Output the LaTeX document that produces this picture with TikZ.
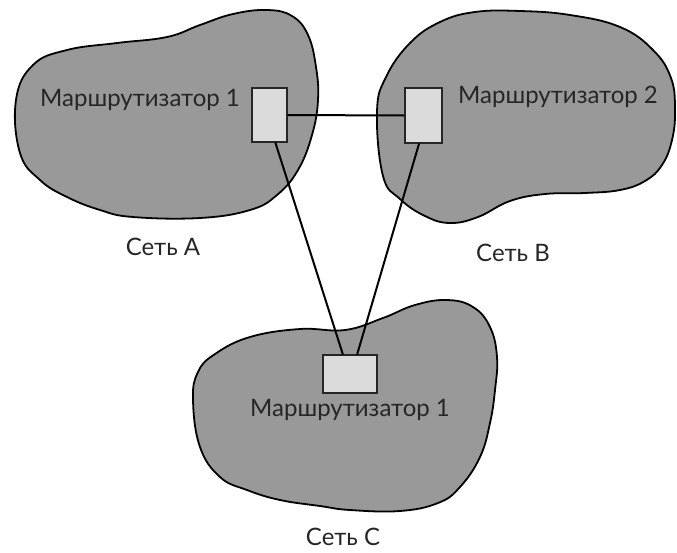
\documentclass[tikz,border=0pt]{standalone}
\usepackage{fontspec}
\setmainfont{Lato}
\begin{document}
\begin{tikzpicture}[x=1pt,y=-1pt,
  net/.style={draw=black, line width=1.8pt, fill=black!40},
  router/.style={draw=black!85, line width=1.2pt, fill=black!14, inner sep=0pt},
  link/.style={draw=black, line width=2pt},
  lbl/.style={font=\fontsize{24}{24}\selectfont, text=black!85, inner sep=0pt}]
\useasboundingbox (0,0) rectangle (677,552);

% network clouds
\path[net] plot[smooth cycle, tension=0.7] coordinates {
  (16,100) (33,65) (67,50) (117,43) (167,37) (200,25) (233,14) (267,10)
  (292,16) (308,35) (316,67) (318,100) (312,135) (298,170) (277,195)
  (250,210) (200,218) (133,217) (100,210) (67,197) (40,180) (20,153)};
\path[net] plot[smooth cycle, tension=0.7] coordinates {
  (377,112) (386,77) (410,43) (440,22) (475,12) (520,11) (570,15) (620,27)
  (653,50) (671,78) (675,110) (672,140) (662,165) (645,181) (620,190)
  (585,193) (545,194) (510,201) (478,217) (450,223) (425,216) (400,199)
  (383,176)};
\path[net] plot[smooth cycle, tension=0.7] coordinates {
  (193,400) (198,372) (215,354) (250,337) (300,329) (345,330) (383,318)
  (415,305) (447,300) (473,307) (490,327) (497,357) (495,390) (490,423)
  (480,457) (460,487) (438,503) (400,511) (350,510) (320,506) (280,500)
  (247,490) (220,477) (200,447)};

% routers
\node[router, minimum width=35pt, minimum height=54pt] (rA) at (269.5,115) {};
\node[router, minimum width=37pt, minimum height=55pt] (rB) at (423.5,115.5) {};
\node[router, minimum width=54pt, minimum height=38pt] (rC) at (350,374) {};

% links
\draw[link] (rA.east) -- (rB.west);
\draw[link] (rA.-78) -- (rC.110);
\draw[link] (rB.-99) -- (rC.70);

% labels
\node[lbl] (tA) at (140,100) {Маршрутизатор 1};
\node[lbl] (tB) at (558,97) {Маршрутизатор 2};
\node[lbl] (tC) at (350,410) {Маршрутизатор 1};
\node[lbl] (nA) at (163,247) {Сеть А};
\node[lbl] (nB) at (513,253) {Сеть В};
\node[lbl] (nC) at (343,537) {Сеть С};
\end{tikzpicture}
\end{document}
